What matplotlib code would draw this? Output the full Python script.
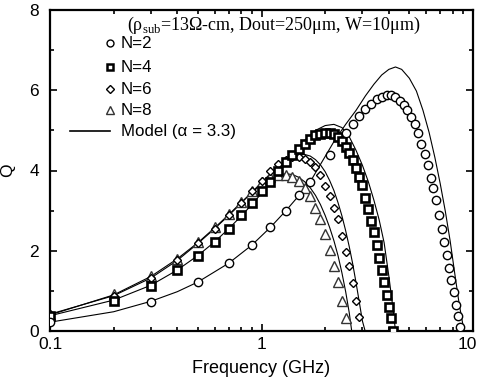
import matplotlib
matplotlib.use("Agg")
from matplotlib import pyplot as plt
from matplotlib.ticker import FixedLocator, NullFormatter, LogLocator
from matplotlib.transforms import ScaledTranslation

plt.rcParams['font.family'] = ['Liberation Sans', 'DejaVu Sans']
plt.rcParams['mathtext.fontset'] = 'custom'
plt.rcParams['mathtext.rm'] = 'Liberation Serif'

# measured Q (markers)
freq_n2 = [0.1, 0.3, 0.5, 0.7, 0.9, 1.1, 1.3, 1.5, 1.7, 2.1, 2.5, 2.7, 2.9, 3.1, 3.3, 3.5,
           3.7, 3.9, 4.1, 4.3, 4.5, 4.7, 4.9, 5.1, 5.3, 5.5, 5.7, 5.9, 6.1, 6.3, 6.5, 6.7,
           6.9, 7.1, 7.3, 7.5, 7.7, 7.9, 8.1, 8.3, 8.5, 8.7]
q_n2 = [0.23, 0.73, 1.22, 1.69, 2.14, 2.58, 2.98, 3.38, 3.72, 4.38, 4.94, 5.16, 5.36, 5.53,
        5.66, 5.77, 5.83, 5.88, 5.88, 5.82, 5.73, 5.63, 5.5, 5.33, 5.15, 4.94, 4.65, 4.4,
        4.13, 3.82, 3.56, 3.26, 2.89, 2.54, 2.23, 1.89, 1.57, 1.26, 0.96, 0.65, 0.38, 0.11]

freq_n4 = [0.1, 0.2, 0.3, 0.4, 0.5, 0.6, 0.7, 0.8, 0.9, 1.0, 1.1, 1.2, 1.3, 1.4, 1.5, 1.6,
           1.7, 1.8, 1.9, 2.0, 2.1, 2.2, 2.3, 2.4, 2.5, 2.6, 2.7, 2.8, 2.9, 3.0, 3.1, 3.2,
           3.3, 3.4, 3.5, 3.6, 3.7, 3.8, 3.9, 4.0, 4.1, 4.2]
q_n4 = [0.375, 0.76, 1.13, 1.51, 1.88, 2.23, 2.55, 2.88, 3.18, 3.48, 3.72, 3.98, 4.2, 4.38,
        4.54, 4.67, 4.79, 4.88, 4.92, 4.93, 4.93, 4.9, 4.84, 4.73, 4.59, 4.44, 4.27, 4.07,
        3.85, 3.63, 3.32, 3.03, 2.73, 2.46, 2.15, 1.82, 1.53, 1.23, 0.9, 0.59, 0.32, 0.01]

freq_n6 = [0.1, 0.2, 0.3, 0.4, 0.5, 0.6, 0.7, 0.8, 0.9, 1.0, 1.1, 1.2, 1.3, 1.4, 1.5, 1.6,
           1.7, 1.8, 1.9, 2.0, 2.1, 2.2, 2.3, 2.4, 2.5, 2.6, 2.7, 2.8, 2.9]
q_n6 = [0.42, 0.88, 1.32, 1.76, 2.2, 2.55, 2.9, 3.2, 3.5, 3.75, 3.99, 4.15, 4.26, 4.33, 4.34,
        4.28, 4.21, 4.08, 3.9, 3.61, 3.36, 3.07, 2.78, 2.36, 1.98, 1.61, 1.19, 0.75, 0.36]

freq_n8 = [0.1, 0.2, 0.3, 0.4, 0.5, 0.6, 0.7, 0.8, 0.9, 1.0, 1.1, 1.2, 1.3, 1.4, 1.5, 1.6,
           1.7, 1.8, 1.9, 2.0, 2.1, 2.2, 2.3, 2.4, 2.5]
q_n8 = [0.4, 0.92, 1.36, 1.8, 2.23, 2.58, 2.92, 3.22, 3.49, 3.72, 3.85, 3.88, 3.88, 3.84,
        3.73, 3.57, 3.36, 3.07, 2.78, 2.42, 2.03, 1.63, 1.21, 0.76, 0.32]

# model curves (alpha = 3.3)
model_f_n2 = [0.1, 0.2, 0.3, 0.4, 0.5, 0.7, 0.9, 1.1, 1.3, 1.5, 1.7, 2.0, 2.2, 2.5, 2.8, 3.1,
              3.4, 3.7, 4.0, 4.3, 4.6, 5.0, 5.4, 5.8, 6.2, 6.6, 7.0, 7.4, 7.8, 8.2, 8.6, 9.07]
model_q_n2 = [0.22, 0.48, 0.74, 0.98, 1.22, 1.69, 2.14, 2.58, 2.99, 3.37, 3.72, 4.35, 4.72,
              5.15, 5.5, 5.86, 6.15, 6.38, 6.52, 6.58, 6.52, 6.3, 5.98, 5.5, 4.95, 4.33, 3.67,
              2.98, 2.24, 1.43, 0.68, 0.0]

model_f_n4 = [0.1, 0.2, 0.3, 0.4, 0.5, 0.6, 0.7, 0.8, 0.9, 1.0, 1.2, 1.4, 1.6, 1.8, 2.0, 2.2,
              2.4, 2.6, 2.8, 3.0, 3.2, 3.4, 3.6, 3.8, 4.0, 4.2, 4.3]
model_q_n4 = [0.38, 0.77, 1.14, 1.52, 1.88, 2.22, 2.55, 2.86, 3.15, 3.43, 3.93, 4.37, 4.75,
              5.0, 5.12, 5.15, 5.07, 4.84, 4.5, 4.13, 3.72, 3.26, 2.77, 2.2, 1.37, 0.5, 0.0]

model_f_n6 = [0.1, 0.2, 0.3, 0.4, 0.5, 0.6, 0.7, 0.8, 0.9, 1.0, 1.1, 1.2, 1.3, 1.4, 1.5, 1.6,
              1.7, 1.8, 1.9, 2.0, 2.1, 2.2, 2.3, 2.4, 2.5, 2.6, 2.7, 2.8, 2.9, 3.0, 3.09]
model_q_n6 = [0.42, 0.88, 1.32, 1.76, 2.18, 2.55, 2.88, 3.18, 3.46, 3.7, 3.92, 4.1, 4.24, 4.34,
              4.39, 4.4, 4.36, 4.27, 4.14, 3.97, 3.75, 3.5, 3.2, 2.87, 2.5, 2.1, 1.67, 1.2,
              0.72, 0.25, 0.0]

model_f_n8 = [0.1, 0.2, 0.3, 0.4, 0.5, 0.6, 0.7, 0.8, 0.9, 1.0, 1.1, 1.2, 1.3, 1.4, 1.5, 1.6,
              1.7, 1.8, 1.9, 2.0, 2.1, 2.2, 2.3, 2.4, 2.5, 2.6, 2.67]
model_q_n8 = [0.4, 0.9, 1.36, 1.8, 2.2, 2.57, 2.9, 3.2, 3.45, 3.65, 3.8, 3.88, 3.92, 3.9, 3.83,
              3.72, 3.57, 3.38, 3.15, 2.88, 2.58, 2.25, 1.88, 1.45, 0.98, 0.45, 0.0]

legend_labels = ["N=2", "N=4", "N=6", "N=8", "Model (\u03b1 = 3.3)"]

fig = plt.figure(figsize=(4.81, 3.87), dpi=100)
ax = fig.add_axes([50/481, 1 - 331/387, 423/481, 321/387])

for f, q in [(model_f_n2, model_q_n2), (model_f_n4, model_q_n4),
             (model_f_n6, model_q_n6), (model_f_n8, model_q_n8)]:
    ax.plot(f, q, color='black', lw=0.8, zorder=2)

ax.plot(freq_n8, q_n8, ls='none', marker='^', ms=6.5, mfc='white', mec='#333333', mew=1.0, zorder=3)
ax.plot(freq_n6, q_n6, ls='none', marker='D', ms=4.3, mfc='white', mec='black', mew=1.0, zorder=3)
ax.plot(freq_n4, q_n4, ls='none', marker='s', ms=5.6, mfc='white', mec='black', mew=1.9, zorder=3)
ax.plot(freq_n2, q_n2, ls='none', marker='o', ms=6, mfc='white', mec='black', mew=1.0, zorder=3)

ax.set_xscale('log')
ax.set_xlim(0.1, 10)
ax.set_ylim(0, 8)
ax.set_xticks([0.1, 1, 10])
ax.set_xticklabels(['0.1', '1', '10'])
ax.xaxis.set_minor_locator(LogLocator(base=10, subs=range(2, 10)))
ax.xaxis.set_minor_formatter(NullFormatter())
ax.set_yticks([0, 2, 4, 6, 8])
ax.yaxis.set_minor_locator(FixedLocator([1, 3, 5, 7]))
ax.tick_params(which='both', direction='in', top=True, right=True, labelsize=12.5, width=1.2)
ax.tick_params(which='major', length=5)
ax.tick_params(which='minor', length=3)
ax.tick_params(axis='y', which='major', pad=8)
ax.tick_params(axis='x', which='major', pad=4)
for s in ax.spines.values():
    s.set_linewidth(1.6)

ax.set_xlabel('Frequency (GHz)', fontsize=13)
ax.xaxis.set_label_coords(0.5, -0.09)
ax.set_ylabel('Q', fontsize=12.5)
ax.yaxis.set_label_coords(-0.082, 0.5)

# hand-placed legend
legend_y = [0.896, 0.821, 0.753, 0.688, 0.623]
legend_styles = [dict(marker='o', ms=5, mfc='white', mec='black', mew=1.0),
                 dict(marker='s', ms=5, mfc='white', mec='black', mew=1.8),
                 dict(marker='D', ms=3.8, mfc='white', mec='black', mew=1.0),
                 dict(marker='^', ms=5.5, mfc='white', mec='#333333', mew=1.0)]
for y, st in zip(legend_y[:4], legend_styles):
    ax.plot([0.142], [y], transform=ax.transAxes, ls='none', **st)
ax.plot([0.047, 0.142], [legend_y[4]] * 2, transform=ax.transAxes, color='black', lw=1.2)
for y, lab in zip(legend_y, legend_labels):
    ax.text(0.168, y, lab, transform=ax.transAxes, fontsize=12.2, va='center', ha='left')

ax.text(0.53, 0.953, "(\u03c1$_{\\mathrm{sub}}$=13\u03a9-cm, Dout=250\u03bcm, W=10\u03bcm)",
        transform=ax.transAxes, fontsize=13, ha='center', va='center', family='Liberation Serif')

# keep the "10" label inside the picture
last = ax.xaxis.get_major_ticks()[-1].label1
last.set_transform(last.get_transform() + ScaledTranslation(-4/72, 0, fig.dpi_scale_trans))

fig.savefig('out.png', dpi=100)
